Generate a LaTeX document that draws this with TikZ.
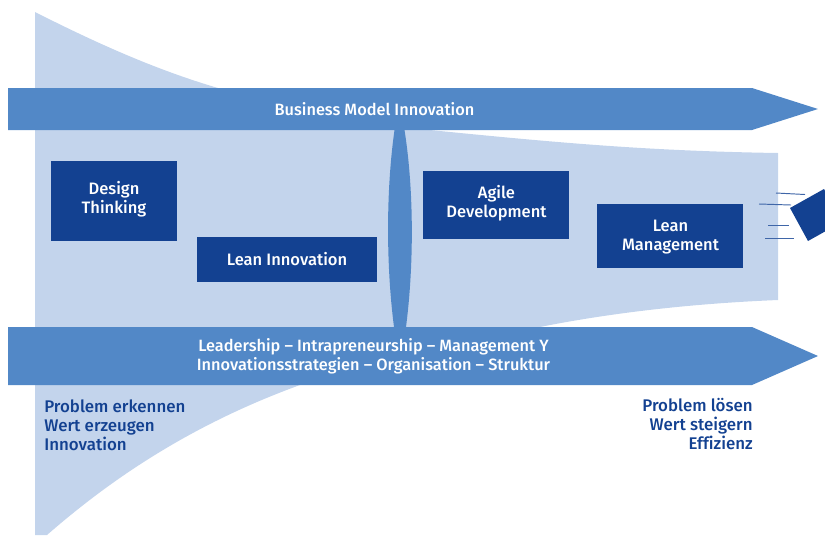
\documentclass[tikz,border=0pt]{standalone}
\usepackage{fontspec}
\setmainfont{Fira Sans}[BoldFont={Fira Sans Medium},Ligatures=NoCommon]
\usetikzlibrary{positioning}
\definecolor{funnelblue}{HTML}{C3D4EC}
\definecolor{barblue}{HTML}{5288C7}
\definecolor{boxblue}{HTML}{134191}
\tikzset{
 boxlabel/.style={text=white,font=\fontsize{9.4}{10.8}\selectfont\bfseries,align=center,inner sep=0pt},
 barlabel/.style={boxlabel,font=\fontsize{9.3}{10.8}\selectfont\bfseries},
 sidelabel/.style={text=boxblue,font=\fontsize{9.6}{10.8}\selectfont\bfseries,inner sep=0pt},
 speedline/.style={boxblue!75!funnelblue,line width=.55pt}
}
\begin{document}
\begin{tikzpicture}[x=.02cm,y=-.02cm]
\useasboundingbox (0,0) rectangle (825,535);
\fill[funnelblue] (35,12) .. controls (110,50) and (170,75) .. (232,92)
  .. controls (290,110) and (360,125) .. (430,130)
  .. controls (560,143) and (650,151) .. (778,153)
  -- (778,300) .. controls (680,304) and (600,315) .. (540,327)
  .. controls (460,340) and (370,358) .. (300,385)
  .. controls (190,425) and (110,480) .. (47,535) -- (35,535) -- cycle;
\fill[barblue] (394.5,130) .. controls (386,190) and (386,265) .. (394,327)
  -- (406,327) .. controls (414,265) and (414,190) .. (404.5,130) -- cycle;
\fill[barblue] (8,88)--(752,88)--(818,109)--(752,130)--(8,130)--cycle;
\fill[barblue] (8,327)--(752,327)--(818,356)--(752,385)--(8,385)--cycle;
\fill[boxblue] (51,161) rectangle (177,241);
\fill[boxblue] (197,237) rectangle (377,282);
\fill[boxblue] (423,171) rectangle (569,239);
\fill[boxblue] (597,204) rectangle (743,268);
\node[barlabel] (bmi) at (374.5,109) {Business Model Innovation};
\node[barlabel] (lead) at (373.5,356) {Leadership – Intrapreneurship – Management Y\\Innovationsstrategien – Organisation – Struktur};
\node[boxlabel] (design) at (114,199) {Design\\Thinking};
\node[boxlabel] (leaninno) at (287,259.5) {Lean Innovation};
\node[boxlabel] (agile) at (496.5,203.5) {Agile\\Development};
\node[boxlabel] (leanmgmt) at (670.5,237) {Lean\\Management};
\node[sidelabel,align=left,anchor=north west] (erkennen) at (44,399) {Problem erkennen\\Wert erzeugen\\Innovation};
\node[sidelabel,align=right,anchor=north east] (loesen) at (753,398) {Problem lösen\\Wert steigern\\Effizienz};
\fill[boxblue] (790,208)--(824,189)--(842,222)--(808,241)--cycle;
\draw[speedline] (776,193)--(805,194.5);
\draw[speedline] (759,204)--(791,205);
\draw[speedline] (768,225)--(789,225);
\draw[speedline] (765,238)--(794,238);
\end{tikzpicture}
\end{document}
